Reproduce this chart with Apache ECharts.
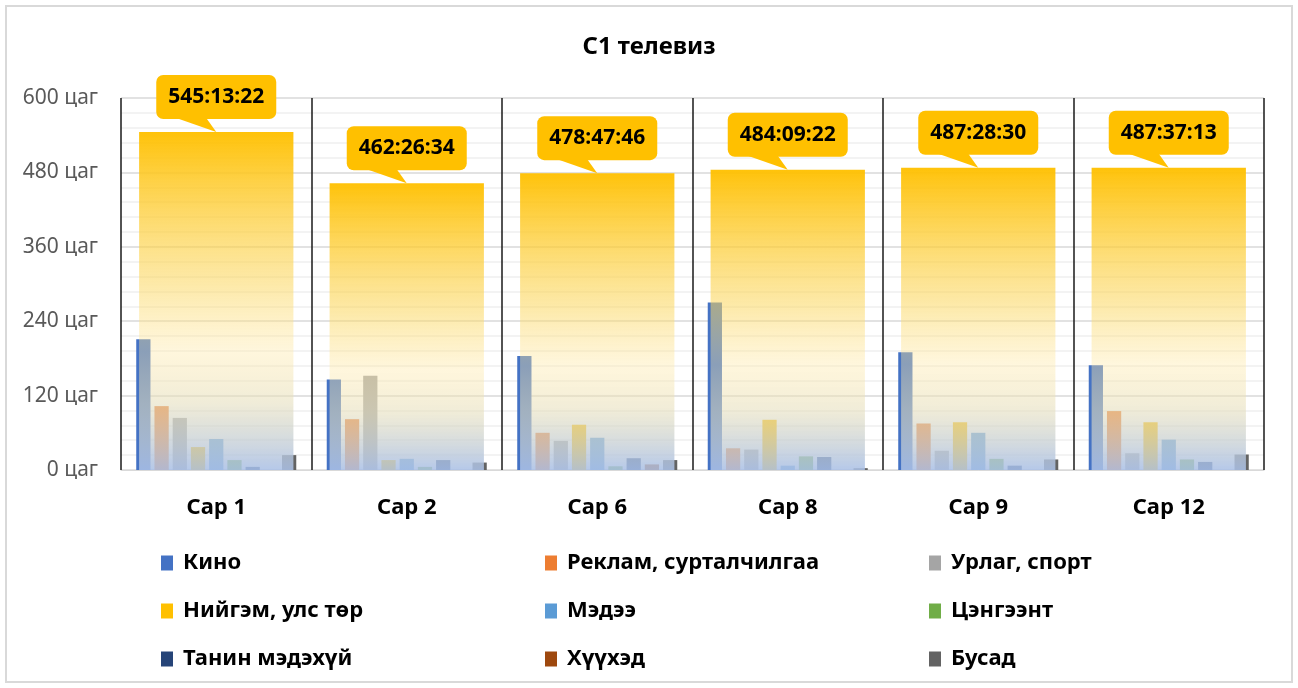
<!DOCTYPE html>
<html>
<head>
<meta charset="utf-8">
<script src="https://cdn.jsdelivr.net/npm/echarts@6/dist/echarts.min.js"></script>
<style>
  html, body { margin: 0; padding: 0; background: #fff; }
  #chart { width: 1298px; height: 688px; }
</style>
</head>
<body>
<div id="chart"></div>
<script>
const months = ["Сар 1", "Сар 2", "Сар 6", "Сар 8", "Сар 9", "Сар 12"];
const totalLabels = ["545:13:22", "462:26:34", "478:47:46", "484:09:22", "487:28:30", "487:37:13"];

// hours per genre
const kino = [211, 146, 184, 270, 190, 169];
const reklam = [103, 82, 60, 35, 75, 95];
const urlag = [84, 152, 47, 33, 31, 27];
const niigem = [37, 16, 73, 81, 77, 77];
const medee = [50, 18, 52, 7, 60, 49];
const tsengeent = [16, 5, 6, 22, 18, 17];
const tanin = [5, 16, 19, 21, 7, 13];
const khuukhed = [0, 0, 9, 0, 0, 0];
const busad = [24, 12, 16, 3, 17, 25];

const genreNames = ["Кино", "Реклам, сурталчилгаа", "Урлаг, спорт", "Нийгэм, улс төр", "Мэдээ", "Цэнгээнт", "Танин мэдэхүй", "Хүүхэд", "Бусад"];
const genreData = [kino, reklam, urlag, niigem, medee, tsengeent, tanin, khuukhed, busad];
const colors = ["#4472C4", "#ED7D31", "#A5A5A5", "#FFC000", "#5B9BD5", "#70AD47", "#264478", "#9E480E", "#636363"];

// "hhh:mm:ss" -> hours
const totals = totalLabels.map((s) => {
  const [h, m, sec] = s.split(":").map(Number);
  return h + m / 60 + sec / 3600;
});

const font = "Noto Sans";
const chart = echarts.init(document.getElementById("chart"));

const barSeries = genreNames.map((name, i) => ({
  name: name,
  type: "bar",
  xAxisIndex: 0,
  data: genreData[i],
  barGap: "28%",
  barCategoryGap: "16%",
  itemStyle: { color: colors[i] },
  z: 2,
}));

// the total bar sits over the genre bars, see-through towards the bottom
const totalFill = new echarts.graphic.LinearGradient(0, 0, 0, 1, [
  { offset: 0, color: "rgba(255,192,0,0.96)" },
  { offset: 0.45, color: "rgba(251,215,96,0.55)" },
  { offset: 0.65, color: "rgba(254,232,165,0.38)" },
  { offset: 0.8, color: "rgba(229,222,188,0.58)" },
  { offset: 1, color: "rgba(170,192,230,0.87)" },
]);

const legendBase = {
  orient: "vertical",
  top: 552,
  padding: 0,
  itemWidth: 12,
  itemHeight: 15,
  itemGap: 26,
  icon: "rect",
  selectedMode: false,
  textStyle: { fontFamily: font, fontSize: 22, fontWeight: "bold", color: "#000", lineHeight: 22, padding: [0, 0, 0, 5] },
};

const option = {
  color: colors,
  animation: false,
  title: {
    text: "С1 телевиз",
    left: "center",
    top: 30,
    textStyle: { fontFamily: font, fontSize: 24, fontWeight: "bold", color: "#000" },
  },
  graphic: [{
    type: "rect",
    shape: { x: 6, y: 6, width: 1286, height: 676 },
    style: { fill: "none", stroke: "#d9d9d9", lineWidth: 2 },
    silent: true,
  }],
  legend: [
    Object.assign({}, legendBase, { left: 161, data: [genreNames[0], genreNames[3], genreNames[6]] }),
    Object.assign({}, legendBase, { left: 545, data: [genreNames[1], genreNames[4], genreNames[7]] }),
    Object.assign({}, legendBase, { left: 929, data: [genreNames[2], genreNames[5], genreNames[8]] }),
  ],
  grid: { left: 121, right: 34, top: 98, bottom: 218 },
  xAxis: [
    {
      type: "category",
      data: months,
      axisLine: { lineStyle: { color: "#d9d9d9", width: 1 } },
      axisTick: { show: false },
      axisLabel: { fontFamily: font, fontSize: 22, fontWeight: "bold", color: "#000", margin: 27 },
      splitLine: { show: true, lineStyle: { color: "#1a1a1a", width: 1.5 } },
    },
    {
      type: "category",
      data: months,
      show: false,
    },
  ],
  yAxis: {
    type: "value",
    min: 0,
    max: 600,
    interval: 120,
    axisLine: { show: false },
    axisTick: { show: false },
    axisLabel: {
      fontFamily: font,
      fontSize: 21,
      color: "#595959",
      margin: 23,
      formatter: (v) => v + " цаг",
    },
    splitLine: { lineStyle: { color: "#d9d9d9", width: 1.5 } },
    minorTick: { show: false, splitNumber: 5 },
    minorSplitLine: { show: true, lineStyle: { color: "#efefef", width: 1.5 } },
  },
  series: barSeries.concat([
    {
      name: "Нийт",
      type: "bar",
      xAxisIndex: 1,
      data: totals,
      barWidth: "81%",
      itemStyle: { color: totalFill },
      z: 3,
    },
    {
      name: "label",
      type: "custom",
      xAxisIndex: 1,
      data: totals.map((v, i) => [i, v]),
      z: 5,
      renderItem: (params, api) => {
        const p = api.coord([api.value(0), api.value(1)]);
        const x = p[0];
        const y = p[1];
        return {
          type: "group",
          children: [
            {
              type: "polygon",
              shape: { points: [[x - 40, y - 14], [x - 10, y - 14], [x, y]] },
              style: { fill: "#FFC000" },
            },
            {
              type: "rect",
              shape: { x: x - 60, y: y - 57, width: 120, height: 44, r: 7 },
              style: { fill: "#FFC000" },
            },
            {
              type: "text",
              style: {
                text: totalLabels[params.dataIndex],
                x: x,
                y: y - 35,
                align: "center",
                verticalAlign: "middle",
                font: "bold 21px 'Noto Sans'",
                fill: "#000",
              },
            },
          ],
        };
      },
    },
  ]),
};

chart.setOption(option);
</script>
</body>
</html>
